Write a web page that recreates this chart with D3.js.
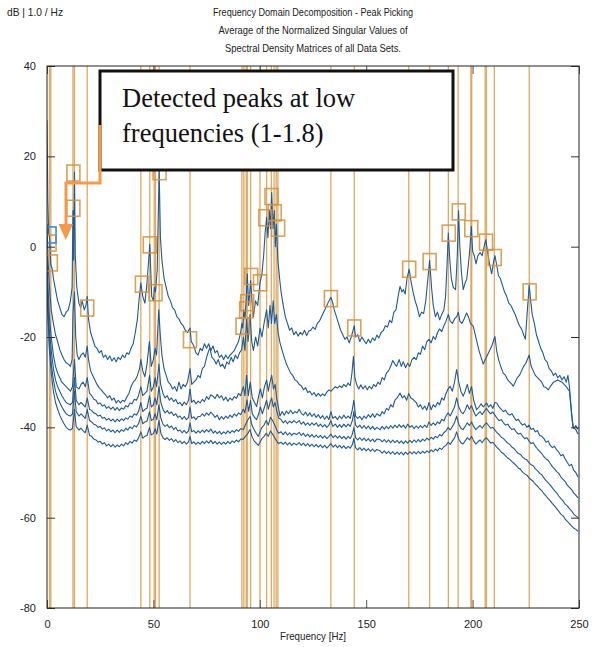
<!DOCTYPE html>
<html>
<head>
<meta charset="utf-8">
<script src="https://cdn.jsdelivr.net/npm/d3@7"></script>
<style>
  body { margin: 0; background: #fff; }
  svg text { font-family: "Liberation Sans", Arial, sans-serif; }
</style>
</head>
<body>
<div id="chart"></div>
<script>
// ---- data ----
const xTicks = [0, 50, 100, 150, 200, 250];
const yTicks = [-80, -60, -40, -20, 0, 20, 40];
const titleLines = [
  "Frequency Domain Decomposition - Peak Picking",
  "Average of the Normalized Singular Values of",
  "Spectral Density Matrices of all Data Sets."
];
const unitLabel = "dB | 1.0 / Hz";
const xLabel = "Frequency [Hz]";
const noteLines = ["Detected peaks at low", "frequencies (1-1.8)"];

// frequencies of the picked peaks (vertical lines)
const peakFreqs = [1.2, 1.8, 12.2, 12.9, 18.9, 44.1, 48.3, 50.4, 51.0, 52.7, 67.2,
  91.6, 92.5, 93.6, 94.1, 95.7, 100.1, 103.2, 105.4, 106.7, 107.7, 108.5,
  133.4, 144.4, 170.0, 179.8, 188.6, 193.2, 199.2, 199.6, 205.9, 206.5, 210.2, 226.6];

// square markers on the peaks [Hz, dB]
const boxFreqs = [1.2, 1.8, 12.4, 12.4, 18.9, 44.6, 48.3, 51.0, 52.9, 67.2, 91.9, 93.6, 94.1, 96.0,
  100.1, 102.6, 105.5, 107.0, 108.6, 133.4, 144.4, 170.2, 179.8, 188.8, 193.5, 199.4, 206.3, 210.4, 226.8];
const boxDbs = [0.8, -3.6, 16.3, 8.5, -13.6, -8.3, 0.4, -10.2, 16.6, -20.6, -17.6, -14, -12.4, -6.6,
  -8, 6.4, 11.1, 7.5, 4.1, -11.5, -18, -5, -3.3, 3, 7.7, 4, 1, -2.4, -10];
// the first (blue) marker
const blueBox = [1.2, 2.6];

// singular value curves [Hz, dB]
const sv1 = [[0,28],[0.4,10],[0.8,3],[1.2,2],[1.5,-1],[1.8,-4],[2.5,-5],[3,-7],[4,-9.5],[5,-12],[6,-13.5],[7,-15],[8,-15.5],[9,-14.5],[10,-14],[11,-12],[11.8,-9],[12.2,8],[12.5,-3],[12.9,16.5],[13.3,-2],[14,-9],[15,-12.5],[15.8,-13.5],[16.5,-12],[17.5,-14],[18.3,-13],[18.9,-11],[19.5,-16],[20.5,-19],[21.5,-20.5],[22.5,-22],[23.5,-22.5],[24.5,-23.5],[25.5,-23],[26.5,-24.5],[27.5,-24],[28.5,-25],[29.5,-24.2],[30.5,-25.3],[31.5,-24.6],[32.5,-25.5],[33.5,-24.5],[34.5,-25],[35.5,-24],[36.5,-24.6],[37.5,-23.5],[38.5,-23.8],[39.5,-22.5],[40.5,-21.5],[41.5,-19],[42.5,-16],[43.2,-12],[44.1,-8],[45,-11],[46,-12.5],[47,-8],[48.3,0.5],[49.2,-11],[50,-12],[50.5,-9],[51,-10],[51.8,-5],[52.7,17],[53.3,2],[54,-3],[55,-7],[56,-9],[57,-11],[58,-12],[59,-13.5],[60,-14],[61,-15.5],[62,-16],[63,-17],[64,-17.5],[65,-18.5],[66,-19],[67.2,-18],[67.8,-21],[69,-22],[70,-23.5],[71,-24],[72,-22.5],[73,-23],[74,-21.5],[75,-22.5],[76,-21.5],[77,-23],[78,-22],[79,-23.5],[80,-23],[81,-24.5],[82,-24],[83,-25],[84,-24],[85,-24.8],[86,-24],[87,-23.5],[88,-23],[89,-22],[90,-21],[91,-19],[91.6,-17],[92,-18],[92.5,-14],[93,-16],[93.6,-12],[94.1,-6],[94.8,-13],[95.7,-7.5],[96.5,-13],[97,-15.5],[98,-12],[99,-13],[100.1,-8],[101,-6],[101.8,-2],[102.5,3],[103.2,6.5],[103.8,2],[104.5,8],[105,4],[105.6,12],[106.2,4],[106.8,8],[107.3,0],[107.8,5],[108.5,-3],[109.3,-7],[110,-10],[111,-13],[112,-15.5],[113,-17],[114,-18.5],[115,-18],[116,-19.5],[117,-18.8],[118,-19.8],[119,-19],[120,-19.5],[121,-18.5],[122,-19.7],[123,-18.7],[124,-18.5],[125,-17.8],[126,-18.3],[127,-17],[128,-16.5],[129,-15.5],[130,-14.5],[131,-13.5],[132,-12.5],[133.4,-11.2],[134.3,-12.5],[135,-14],[136,-15.5],[137,-17],[138,-18.5],[139,-19.5],[140,-20.5],[141,-20],[142,-21.3],[143,-20],[144.4,-17.5],[145,-20],[146,-19.5],[147,-21],[148,-20],[149,-20.8],[150,-21.5],[151,-20.5],[152,-21.3],[153,-20.2],[154,-20.8],[155,-19.6],[156,-20.2],[157,-19],[158,-18.6],[159,-17.5],[160,-17.8],[161,-16.3],[162,-16.8],[163,-14.5],[164,-14],[165,-11],[165.9,-8.8],[166.8,-10],[167.5,-9.5],[168.3,-10.5],[169.2,-7],[170.2,-5],[171,-7.5],[172,-10],[173,-12],[174,-13.5],[175,-15.5],[176,-14.5],[177,-14.8],[178,-12],[179,-7],[179.8,-3],[180.7,-9],[181.5,-13],[182.5,-15.5],[183.5,-14.5],[184.5,-16.2],[185.5,-15],[186.5,-14],[187.3,-11],[188,-4],[188.6,3],[189.3,-3],[190,-7],[190.9,-9],[192,-9.5],[192.8,-2],[193.4,8],[194,0],[194.8,-6],[195.6,-9.5],[196.5,-8],[197.2,-7.3],[198,-4],[198.8,0],[199.4,4.5],[200,-1],[200.8,-2],[201.6,-3.8],[202.5,-2],[203.5,-1.3],[204.5,-2],[205.4,0],[206.2,1.5],[207,-1],[208,-4],[209,-6],[209.8,-3.5],[210.5,-2],[211.3,-4],[212.2,-6.5],[213,-7],[214,-8.5],[215,-10],[216,-11],[217,-12.5],[218,-13],[219,-14],[220,-15],[221,-16.3],[222,-17.5],[223,-18.2],[224,-19.5],[224.8,-20.5],[225.6,-15],[226.6,-8.5],[227.3,-12],[228,-15],[229,-17],[230,-19.5],[231,-21],[232,-22.5],[233,-23.5],[234,-25],[235,-25.5],[236,-27],[237,-27.5],[238,-28.5],[239,-28],[240,-29],[241,-28.5],[242,-29.5],[243,-28.8],[244,-30],[244.8,-28.5],[245.5,-31],[246.2,-35],[246.8,-38.5],[247.5,-40.2],[248.5,-39.6],[249.5,-40.5]];

const sv2 = [[0,5],[0.5,-3],[1,-8],[1.5,-11],[2,-14],[3,-17],[4,-19.5],[5,-21],[6,-22.8],[7,-24],[8,-25],[9,-25.7],[10,-26],[11,-26.5],[11.8,-25],[12.2,-15],[12.9,-10],[13.5,-20],[14.2,-24],[15,-25],[16,-24],[17,-23.5],[18,-24.5],[18.9,-22],[19.5,-25],[20.5,-27.5],[21.5,-28.5],[22.5,-29.5],[23.5,-30.5],[24.5,-31.2],[25.5,-31.7],[26.5,-32.3],[27.5,-32.8],[28.5,-33.5],[29.5,-33],[30.5,-34],[31.5,-33.5],[32.5,-34.6],[33.5,-34],[34.5,-34.6],[35.5,-34],[36.5,-34.3],[37.5,-33.3],[38.5,-32.5],[39.5,-31],[40.5,-30],[41.5,-29.5],[42.5,-28.5],[43.5,-27],[44.1,-25],[45,-27.5],[46,-28.8],[47,-26],[48.1,-21],[49,-26.5],[50,-25],[50.8,-22.5],[51.5,-24],[52.5,-14],[53.3,-20],[54,-24],[55,-27],[56,-28.5],[57,-30],[58,-30.5],[59,-31.5],[60,-31],[61,-32],[62,-30],[63,-31.5],[64,-30.5],[65,-31],[66,-30],[67.2,-27],[68,-30.5],[69,-30],[70,-29.5],[71,-28.5],[72,-29],[73,-27],[74,-26.5],[75,-24.5],[76,-23],[76.6,-22.5],[77.5,-24.5],[78.5,-25],[79.5,-26],[80.5,-25],[81.5,-26.5],[82.5,-26],[83.5,-27],[84.5,-25.5],[85.5,-26],[86.5,-24.5],[87.5,-25.5],[88.5,-24],[89.5,-24.8],[90.5,-23.5],[91.5,-22.8],[92.3,-20],[93,-23],[93.8,-16],[94.5,-21],[95.4,-15],[96.2,-21],[97,-23],[98,-20],[99,-22],[100.1,-18],[101,-20],[102,-17],[103.2,-14],[104,-18],[104.8,-13],[105.5,-17],[106.3,-12],[107,-17],[107.8,-15],[108.6,-19],[109.5,-21.3],[110.5,-23],[111.5,-24.5],[112.5,-26],[113.5,-27],[114.5,-28],[115.5,-28.5],[116.5,-29.5],[117.5,-29.8],[118.5,-30.5],[119.5,-30.8],[120.5,-31.7],[121.5,-31.2],[122.5,-32.3],[123.5,-32],[124.5,-32.8],[125.5,-32.3],[126.5,-33.1],[127.5,-32.5],[128.5,-33.1],[129.5,-32.6],[130.5,-33],[131.5,-32.2],[132.5,-31.7],[133.5,-32],[134.5,-31.5],[135.5,-31],[136.5,-31.3],[137.5,-30.8],[138.5,-31.2],[139.5,-30.5],[140.5,-31],[141.5,-30.2],[142.5,-30.8],[143.3,-28],[144,-24.3],[144.7,-29],[145.5,-30.5],[146.5,-31.5],[147.5,-30.6],[148.5,-31.5],[149.5,-30.8],[150.5,-31.7],[151.5,-30.9],[152.5,-31.5],[153.5,-30.5],[154.5,-31],[155.5,-30],[156.5,-30.5],[157.5,-29],[158.5,-29.5],[159.5,-28],[160.5,-27.5],[161.5,-26.5],[162.5,-25.2],[163.5,-26],[164.3,-26.5],[165.5,-25],[166.5,-26.5],[167.5,-25.5],[168.5,-26.8],[169.5,-25.8],[170.5,-26.5],[171.5,-25],[172.5,-24.5],[173.5,-25],[174.5,-23.5],[175.5,-23.8],[176.5,-22],[177.5,-22.8],[178.5,-21],[179.5,-20.5],[180.5,-21.3],[181.5,-19.9],[182.5,-20.5],[183.5,-19],[184.5,-18.2],[185.5,-18.8],[186.5,-17.5],[187.5,-16.5],[188.6,-15],[189.5,-16.5],[190.5,-17],[191.5,-16],[192.5,-15.5],[193.3,-14.5],[194,-16.5],[195,-17],[196,-16],[197.2,-14.7],[198,-15.5],[199,-17],[200.3,-17.6],[201,-19],[202,-21],[203,-23],[204,-24.5],[205,-26],[206,-25],[207,-24],[208,-23],[209,-22],[209.7,-21],[210.5,-19.9],[211.3,-23],[212.2,-25],[213.2,-26.5],[214.4,-28],[215.5,-28.5],[216.5,-29.5],[217.5,-30],[218.5,-30.5],[219.1,-30.9],[220,-30],[221,-29],[222,-28.5],[223,-27.5],[224,-26.5],[225,-25.8],[226.6,-24],[227.5,-26.5],[228.5,-27.5],[229.5,-28.5],[230.5,-29],[231.5,-29.5],[232.5,-30],[233.5,-31],[234.5,-31.2],[235.5,-31.7],[236.5,-31],[238,-30],[240,-29.5],[242,-30],[244,-31],[245.5,-32],[246.3,-36],[247.2,-40],[248.5,-40.5],[249.5,-41.5]];

const sv3 = [[0,-2],[0.5,-9],[1,-15],[2,-20],[3,-24],[4,-26.5],[5,-28],[6,-29],[7,-30],[8,-30.5],[9,-31],[10,-31.5],[11,-32],[12,-31],[12.9,-25],[13.7,-31],[15,-31.5],[16,-30.5],[17,-30],[18,-31],[18.9,-29],[20,-32.5],[21,-33],[22,-33.8],[23,-34],[24,-34.8],[25,-34.6],[26,-35.3],[27,-35],[28,-35.8],[29,-35.4],[30,-36],[31,-35.5],[32,-36.2],[33,-35.6],[34,-36.3],[35,-35.7],[36,-36],[37,-35.2],[38,-35.5],[39,-34.6],[40,-34.8],[41,-33.8],[42,-34],[43,-33],[44.1,-31],[45,-33],[46,-32.5],[47,-32],[48.2,-28.5],[49,-32],[50,-31],[50.8,-29],[51.5,-31],[52.6,-26],[53.4,-30.5],[54.5,-32.5],[55.5,-33.5],[56.5,-33],[57.5,-34],[58.5,-33.5],[59.5,-34.3],[60.5,-33.8],[61.5,-34.8],[62.5,-34.5],[63.5,-35.2],[64.5,-34.4],[65.5,-35],[66.5,-34],[67.2,-31.5],[68,-34.5],[69,-34],[70,-34.8],[71,-34.2],[72,-34.6],[73,-33.8],[74,-34.3],[75,-33.2],[76,-33.8],[77,-32.8],[78,-33.1],[79,-33.6],[80,-32.7],[81,-33.5],[82,-33],[83,-34],[84,-33.3],[85,-34.2],[86,-33.5],[87,-34],[88,-33.2],[89,-33.6],[90,-32.5],[91,-33],[92.3,-31],[93,-33],[93.8,-28.5],[94.6,-33],[95.5,-30],[96.5,-33.5],[97.5,-34.5],[98.5,-35.4],[99.5,-33],[100.3,-31.5],[101.2,-33.5],[102.2,-31],[103.2,-29.5],[104,-32],[104.8,-30],[105.6,-28.5],[106.4,-31.5],[107.2,-30.5],[107.9,-33.5],[108.7,-35.5],[109.5,-37.5],[110.5,-36.5],[111.5,-37.3],[112.5,-36.4],[113.5,-37],[114.5,-36.2],[115.5,-37],[116.5,-36.5],[117.5,-36.8],[118.5,-36],[119.5,-36.9],[120.5,-37.3],[121.5,-36.6],[122.5,-37.5],[123.5,-36.8],[124.5,-37.6],[125.5,-37],[126.5,-37.8],[127.5,-37.2],[128.5,-38],[129.5,-37.4],[130.5,-38.2],[131.5,-37.5],[132.5,-38.3],[133.4,-36.5],[134.3,-38],[135.5,-37.6],[136.5,-38.3],[137.5,-37.5],[138.5,-38.1],[139.5,-37.3],[140.5,-38],[141.5,-37.5],[142.5,-38],[143.5,-36],[144.2,-34],[145,-37.5],[146,-38],[147,-37.6],[148,-38.3],[149,-37.5],[150,-38],[151,-37.2],[152,-37.8],[153,-37],[154,-37.8],[155,-37],[156.5,-37.5],[157.5,-36.5],[158.5,-37],[159.5,-35.8],[160.5,-36.2],[161.5,-35],[162.5,-35.5],[163.5,-34],[164.5,-33.5],[165.9,-32.4],[167,-33.5],[168,-33],[169,-34],[170,-32.5],[171,-33.5],[172.2,-33.9],[173.5,-34.5],[174.5,-35.5],[175.5,-35],[176.5,-36],[177.5,-35.3],[178.5,-36.2],[179.5,-34.5],[180.5,-36.1],[181.5,-35],[182.5,-35.5],[183.5,-34.5],[184.5,-35],[185.5,-33.5],[186.5,-34],[187.5,-32.5],[188.5,-31.5],[189.4,-30.9],[190.5,-32],[191.5,-30],[192.5,-27.2],[193.5,-30],[194.5,-32],[195.6,-33.1],[196.5,-32],[197.5,-30.5],[198.5,-32.5],[199.5,-31],[200.5,-34],[201.9,-36.1],[203,-35.5],[204,-34.8],[205,-35.5],[206.6,-34.6],[207.5,-35.5],[208.5,-35],[209.5,-35.8],[210.5,-34.5],[211.3,-34.6],[212.5,-35.5],[213.5,-36],[214.5,-36.5],[215.5,-36.2],[216.5,-37],[217.5,-37.3],[218.5,-37],[219.5,-37.8],[220.5,-38.5],[221.5,-38.2],[222.5,-39],[223.5,-39.5],[224.5,-39.2],[225.5,-40],[226.5,-39.5],[227.5,-40.5],[228.5,-40.2],[229.5,-41],[230.5,-40.7],[231.5,-41.8],[232.5,-42],[233.5,-42.5],[234.5,-43.3],[235.5,-43],[236.5,-44],[237.5,-44.5],[238.5,-44.2],[239.5,-45],[240.5,-45.5],[241.5,-46.3],[242.5,-46],[243.5,-47],[244.5,-47.8],[245.5,-48.5],[246.5,-48.2],[247.5,-49.5],[248.5,-50],[249.5,-51]];

const sv4 = [[0,-5],[0.5,-12],[1,-18],[2,-23],[3,-27],[4,-29.5],[5,-31],[6,-32],[7,-33],[8,-33.8],[9,-34.5],[10,-34.8],[11,-35],[12,-34.5],[12.9,-29],[13.7,-34],[15,-35],[16,-34.5],[17,-35],[18,-35.5],[18.9,-33.5],[20,-36],[21,-36.3],[22,-36.8],[23,-37],[24,-37.5],[25,-37.3],[26,-38],[27,-37.8],[28,-38.4],[29,-38],[30,-38.6],[31,-38.2],[32,-38.8],[33,-38.2],[34,-38.7],[35,-38.1],[36,-38.5],[37,-37.9],[38,-38.2],[39,-37.5],[40,-37.8],[41,-37],[42,-37.3],[43,-36.5],[44.1,-34.5],[45,-36.5],[46,-36],[47,-35.8],[48.2,-33],[49,-35.5],[50,-35],[50.8,-33.5],[51.6,-35],[52.6,-31],[53.5,-34.5],[54.5,-36],[55.5,-36.8],[56.5,-36.3],[57.5,-37],[58.5,-36.6],[59.5,-37.4],[60.5,-37],[61.5,-37.8],[62.5,-37.5],[63.5,-38.2],[64.5,-37.6],[65.5,-38.3],[66.5,-37.8],[67.2,-35.5],[68,-38],[69,-37.7],[70,-38.3],[71,-37.6],[72,-37.6],[73,-37],[74,-37.5],[75,-36.8],[76,-37.3],[77,-36.6],[78,-37.2],[79,-37.8],[80,-37.3],[81,-38.3],[82,-37.6],[83,-38.2],[84,-37.5],[85,-38],[86,-37.3],[87,-37.8],[88,-37],[89,-37.5],[90,-36.8],[91,-37.2],[92.3,-36],[93,-36.8],[94,-33.9],[94.8,-36.5],[95.6,-34],[96.5,-37],[97.5,-37.8],[98.5,-38.3],[99.5,-37],[100.3,-35.5],[101.2,-37],[102.2,-35.5],[103.2,-34],[104,-36],[104.8,-34.5],[105.6,-33.5],[106.3,-35.5],[107.2,-34.5],[108,-36.5],[109,-38],[110,-38.3],[111,-39],[112,-38.5],[113,-39.2],[114,-38.6],[115,-39],[116,-38.5],[117.3,-39],[118.5,-38.5],[119.5,-39.3],[120.5,-38.8],[121.5,-39.5],[122.5,-39],[123.5,-39.6],[124.5,-39],[125.5,-39.5],[126.5,-39],[127.5,-39.8],[128.5,-39.3],[129.5,-39.9],[130.5,-39.4],[131.5,-40],[132.5,-39.5],[133.4,-38.5],[134.3,-39.8],[135.5,-39.3],[136.5,-40],[137.5,-39.4],[138.5,-40],[139.5,-39.3],[140.5,-39.9],[141.5,-39.3],[142.5,-39.8],[143.5,-38.5],[144.2,-36.5],[145,-39.5],[146,-40],[147,-39.5],[148,-40.2],[149,-39.6],[150,-40.3],[151,-39.7],[152,-40.4],[153,-39.8],[154,-40.5],[155,-40],[156.5,-40.5],[157.5,-39.8],[158.5,-40.4],[159.5,-39.8],[160.5,-40.3],[161.5,-39.6],[162.5,-40.2],[163.5,-39.5],[164.5,-40.1],[165.5,-39.4],[166.5,-40],[167.5,-39.5],[168.5,-40.2],[169.5,-39.3],[170.5,-40],[171.5,-39.6],[172.5,-40.3],[173.5,-39.7],[174.5,-40.2],[175.5,-39.6],[176.5,-40.1],[177.5,-39.5],[178.5,-40],[179.5,-38.8],[180.5,-39.6],[181.5,-39],[182.5,-39.5],[183.5,-38.8],[184.5,-39.2],[185.5,-38.2],[186.5,-38.6],[187.5,-37.5],[188.5,-36.8],[189.5,-37.5],[190.5,-36.5],[191.5,-35.5],[192.5,-33.5],[193.5,-35.5],[194.5,-36.5],[195.5,-37],[196.5,-36.2],[197.5,-35],[198.5,-36],[199.5,-35.2],[200.5,-36.5],[201.5,-37.5],[202.5,-37],[203.5,-36.5],[204.5,-37.2],[205.5,-36.4],[206.5,-35.8],[207.5,-36.5],[208.5,-37],[209.5,-36.6],[210.5,-37.3],[211.5,-38],[212.5,-38.5],[213.5,-38.3],[214.5,-39],[215.5,-39.5],[216.5,-39.3],[217.5,-40],[218.5,-40.5],[219.5,-40.3],[220.5,-41],[221.5,-41.5],[222.5,-41.3],[223.5,-42],[224.5,-42.5],[225.5,-42.3],[226.5,-43],[227.5,-43.6],[228.5,-43.4],[229.5,-44.2],[230.5,-44.8],[231.5,-45.3],[232.5,-45.8],[233.5,-46.5],[234.5,-47],[235.5,-47.3],[236.5,-48],[237.5,-48.7],[238.5,-49.2],[239.5,-49.8],[240.5,-50.2],[241.5,-51],[242.5,-51.5],[243.5,-52],[244.5,-52.8],[245.5,-53.3],[246.5,-53.8],[247.5,-54.5],[248.5,-55],[249.5,-55.6]];

const sv5 = [[0,-7],[0.5,-14],[1,-20],[2,-26],[3,-29.5],[4,-32],[5,-33.5],[6,-34.5],[7,-35.5],[8,-36.3],[9,-37],[10,-37.3],[11,-37.5],[12,-37],[12.9,-32],[13.7,-36.5],[15,-37.5],[16,-37],[17,-37.5],[18,-38],[18.9,-36],[20,-38.5],[21,-38.8],[22,-39.3],[23,-39.5],[24,-40],[25,-39.8],[26,-40.4],[27,-40.1],[28,-40.8],[29,-40.4],[30,-41],[31,-40.6],[32,-41.2],[33,-40.6],[34,-41.1],[35,-40.5],[36,-40.9],[37,-40.2],[38,-40.6],[39,-39.9],[40,-40.3],[41,-39.6],[42,-39.9],[43,-39.2],[44.1,-37.5],[45,-39.2],[46,-38.8],[47,-38.6],[48.2,-36.5],[49,-38.5],[50,-38.2],[50.8,-37],[51.6,-38.3],[52.6,-35],[53.5,-38],[54.5,-39.3],[55.5,-39.8],[56.5,-39.4],[57.5,-40.1],[58.5,-39.7],[59.5,-40.5],[60.5,-40],[61.5,-40.8],[62.5,-40.6],[63.5,-41.2],[64.5,-40.7],[65.5,-41.3],[66.5,-40.8],[67.2,-39],[68,-41],[69,-40.7],[70,-41.3],[71,-40.8],[72,-41.2],[73,-40.6],[74,-41.1],[75,-40.5],[76,-41],[77,-40.4],[78.2,-41.3],[79,-40.8],[80,-41.4],[81,-40.9],[82,-41.5],[83,-41],[84,-41.4],[85,-40.8],[86,-41.3],[87,-40.7],[88,-41.1],[89,-40.5],[90,-40.9],[91,-40.3],[92.3,-40.5],[93.2,-39.5],[94.2,-38.5],[95.4,-37.6],[96.3,-39.5],[97.3,-40.5],[98.3,-41.3],[99.3,-42],[100.1,-41],[101,-40],[102,-39.5],[103,-38.5],[104,-39.5],[105,-37.8],[106,-38.5],[107,-39.5],[107.9,-40.5],[108.8,-41.3],[110,-41],[111,-41.6],[112,-41],[113,-41.7],[114,-41.2],[115,-41.8],[116,-41.3],[117.3,-41.6],[118.5,-41.1],[119.5,-41.8],[120.5,-41.3],[121.5,-42],[122.5,-41.5],[123.5,-42.1],[124.5,-41.6],[125.5,-42.2],[126.5,-41.7],[127.5,-42.3],[128.5,-41.8],[129.5,-42.4],[130.5,-41.9],[131.5,-42.5],[132.5,-42],[133.4,-41.5],[134.5,-42.3],[135.5,-41.8],[136.5,-42.4],[137.5,-41.9],[138.5,-42.5],[139.5,-42],[140.5,-42.6],[141.5,-42],[142.5,-42.5],[143.5,-41.5],[144.2,-40],[145,-42.3],[146,-42.8],[147,-42.3],[148,-42.9],[149,-42.4],[150,-43],[151,-42.5],[152,-43.1],[153,-42.6],[154,-43.2],[155,-42.6],[156.5,-42.7],[157.5,-43.2],[158.5,-42.7],[159.5,-43.3],[160.5,-42.8],[161.5,-43.4],[162.5,-42.8],[163.5,-43.4],[164.5,-42.9],[165.5,-43.5],[166.5,-43],[167.5,-43.6],[168.5,-43],[169.5,-43.5],[170.5,-42.9],[171.5,-43.4],[172.5,-42.8],[173.5,-43.3],[174.5,-42.7],[175.5,-43.2],[176.5,-42.6],[177.5,-43],[178.5,-42.4],[179.5,-42.8],[180.5,-42.2],[181.5,-42.6],[182.5,-42],[183.5,-42.3],[184.5,-41.6],[185.5,-41.9],[186.5,-41.2],[187.5,-40.8],[188.5,-40],[189.5,-40.6],[190.5,-39.8],[191.5,-39],[192.5,-37.5],[193.5,-39.3],[194.5,-40.2],[195.5,-40.5],[196.5,-39.8],[197.5,-39],[198.5,-39.6],[199.5,-38.8],[200.5,-39.8],[201.5,-40.5],[202.5,-40],[203.5,-39.6],[204.5,-40.2],[205.5,-39.5],[206.5,-39],[207.5,-39.6],[208.5,-40.2],[209.5,-40],[210.5,-40.6],[211.5,-41.2],[212.5,-41.6],[213.5,-42.2],[214.5,-42.5],[215.5,-43],[216.5,-43.5],[217.5,-43.8],[218.5,-44.4],[219.5,-44.7],[220.5,-45.3],[221.5,-45.8],[222.5,-46],[223.5,-46.6],[224.5,-47],[225.5,-47.2],[226.5,-47.8],[227.5,-48.3],[228.5,-48.5],[229.5,-49.2],[230.5,-49.6],[231.5,-50.2],[232.5,-50.5],[233.5,-51.2],[234.5,-51.8],[235.5,-52.3],[236.5,-52.8],[237.5,-53.4],[238.5,-54],[239.5,-54.5],[240.5,-55.2],[241.5,-55.8],[242.5,-56.3],[243.5,-57],[244.5,-57.4],[245.5,-58],[246.5,-58.5],[247.5,-59.2],[248.5,-59.6],[249.5,-60]];

const sv6 = [[0,-9],[0.5,-16],[1,-22],[2,-28],[3,-32],[4,-34.5],[5,-36],[6,-37.3],[7,-38.3],[8,-39.2],[9,-40],[10,-40.4],[11,-40.6],[12,-40.2],[12.9,-36],[13.7,-39.8],[15,-40.6],[16,-40.2],[17,-40.8],[18,-41.2],[18.9,-39.5],[20,-41.8],[21,-42],[22,-42.6],[23,-42.8],[24,-43.3],[25,-43.1],[26,-43.7],[27,-43.4],[28,-44.1],[29,-43.7],[30,-44.3],[31,-43.8],[32,-44.4],[33,-43.9],[34,-44.3],[35,-43.7],[36,-44.1],[37,-43.4],[38,-43.8],[39,-43.1],[40,-43.5],[41,-42.8],[42,-43.1],[43,-42.4],[44.1,-41],[45,-42.4],[46,-42],[47,-41.8],[48.2,-40],[49,-41.7],[50,-41.4],[50.8,-40.3],[51.6,-41.5],[52.6,-38.5],[53.5,-41.3],[54.5,-42.3],[55.5,-42.7],[56.5,-42.3],[57.5,-42.9],[58.5,-42.5],[59.5,-43.2],[60.5,-42.7],[61.5,-43.4],[62.5,-43],[63.5,-43.6],[64.5,-43.1],[65.5,-43.7],[66.5,-43.2],[67.2,-42],[68,-43.6],[69,-43.2],[70,-43.8],[71,-43.3],[72,-43.7],[73,-43.1],[74,-43.6],[75,-43],[76,-43.5],[77,-42.9],[78,-43.6],[79,-43.1],[80,-43.7],[81,-43.2],[82,-43.8],[83,-43.3],[84,-43.7],[85,-43.1],[86,-43.6],[87,-43],[88,-43.4],[89,-42.8],[90,-43.2],[91,-42.6],[92.3,-42.6],[93.2,-42],[94.2,-41.5],[95.4,-40.5],[96.3,-42],[97.3,-43],[98.3,-43.5],[99.3,-44],[100.1,-43.3],[101,-42.5],[102,-42],[103,-41.3],[104,-42],[105,-40.8],[106,-41.5],[107,-42.3],[107.9,-43],[108.8,-43.6],[110,-43.3],[111,-43.8],[112,-43.3],[113,-43.9],[114,-43.4],[115,-44],[116,-43.5],[117.3,-43.9],[118.5,-43.4],[119.5,-44],[120.5,-43.5],[121.5,-44.1],[122.5,-43.6],[123.5,-44.2],[124.5,-43.7],[125.5,-44.3],[126.5,-43.8],[127.5,-44.4],[128.5,-43.9],[129.5,-44.5],[130.5,-44],[131.5,-44.6],[132.5,-44.1],[133.4,-43.6],[134.5,-44.4],[135.5,-43.9],[136.5,-44.5],[137.5,-44],[138.5,-44.6],[139.5,-44.1],[140.5,-44.7],[141.5,-44.2],[142.5,-44.6],[143.5,-43.8],[144.2,-42.5],[145,-44.5],[146,-45],[147,-44.5],[148,-45.1],[149,-44.6],[150,-45.2],[151,-44.7],[152,-45.3],[153,-44.8],[154,-45.4],[155,-44.9],[156.5,-45.2],[157.5,-45.7],[158.5,-45.2],[159.5,-45.8],[160.5,-45.3],[161.5,-45.9],[162.5,-45.4],[163.5,-46],[164.5,-45.5],[165.5,-46],[166.5,-45.5],[167.5,-46.1],[168.5,-45.5],[169.5,-46],[170.5,-45.4],[171.5,-45.9],[172.5,-45.4],[173.5,-45.9],[174.5,-45.3],[175.5,-45.8],[176.5,-45.3],[177.5,-45.7],[178.5,-45.2],[179.5,-45.6],[180.5,-45],[181.5,-45.4],[182.5,-44.8],[183.5,-45.2],[184.5,-44.6],[185.5,-44.9],[186.5,-44.3],[187.5,-44],[188.5,-43.3],[189.5,-43.8],[190.5,-43],[191.5,-42.4],[192.5,-41],[193.5,-42.6],[194.5,-43.4],[195.5,-43.7],[196.5,-43],[197.5,-42.3],[198.5,-42.8],[199.5,-42],[200.5,-43],[201.5,-43.7],[202.5,-43.2],[203.5,-42.8],[204.5,-43.4],[205.5,-42.7],[206.5,-42.3],[207.5,-42.9],[208.5,-43.5],[209.5,-43.3],[210.5,-43.9],[211.5,-44.5],[212.5,-44.9],[213.5,-45.5],[214.5,-45.8],[215.5,-46.3],[216.5,-46.8],[217.5,-47.1],[218.5,-47.6],[219.5,-48],[220.5,-48.5],[221.5,-49],[222.5,-49.3],[223.5,-49.9],[224.5,-50.3],[225.5,-50.6],[226.5,-51.2],[227.5,-51.6],[228.5,-52],[229.5,-52.6],[230.5,-53],[231.5,-53.6],[232.5,-54],[233.5,-54.7],[234.5,-55.2],[235.5,-55.8],[236.5,-56.3],[237.5,-56.9],[238.5,-57.4],[239.5,-58],[240.5,-58.6],[241.5,-59.2],[242.5,-59.6],[243.5,-60.3],[244.5,-60.8],[245.5,-61.3],[246.5,-61.8],[247.5,-62.3],[248.5,-62.6],[249.5,-63]];

const curves = [sv6, sv5, sv4, sv3, sv2, sv1];

// ---- layout ----
const width = 592, height = 647;
const margin = { top: 66, right: 13, bottom: 39, left: 47 };
const innerW = width - margin.left - margin.right;
const innerH = height - margin.top - margin.bottom;

const svg = d3.select("#chart").append("svg")
  .attr("width", width)
  .attr("height", height);

const x = d3.scaleLinear().domain([0, 250]).range([margin.left, margin.left + innerW]);
const y = d3.scaleLinear().domain([-80, 40]).range([margin.top + innerH, margin.top]);

// plain hyphen for negative tick labels, like the original
const plainFormat = d => String(d);

// titles
svg.append("text")
  .attr("x", 7).attr("y", 16)
  .attr("textLength", 56).attr("lengthAdjust", "spacingAndGlyphs")
  .style("font-size", "11px").style("fill", "#222")
  .text(unitLabel);

const titleWidths = [200, 189, 176];
titleLines.forEach((t, i) => {
  svg.append("text")
    .attr("x", 313 - titleWidths[i] / 2).attr("y", 16 + i * 18)
    .attr("textLength", titleWidths[i]).attr("lengthAdjust", "spacingAndGlyphs")
    .style("font-size", "11px").style("fill", "#222")
    .text(t);
});

// clip for plot area
svg.append("clipPath").attr("id", "plot-clip")
  .append("rect")
  .attr("x", margin.left).attr("y", margin.top)
  .attr("width", innerW).attr("height", innerH);

const plot = svg.append("g").attr("clip-path", "url(#plot-clip)");

// peak lines
plot.selectAll("line.peak")
  .data(peakFreqs)
  .join("line")
  .attr("class", "peak")
  .attr("x1", d => x(d)).attr("x2", d => x(d))
  .attr("y1", margin.top).attr("y2", margin.top + innerH)
  .attr("stroke", "#d99a44")
  .attr("stroke-opacity", 0.85)
  .attr("stroke-width", 1.3);

// curves
const line = d3.line()
  .x(d => x(d[0]))
  .y(d => y(d[1]));

plot.selectAll("path.sv")
  .data(curves)
  .join("path")
  .attr("class", "sv")
  .attr("fill", "none")
  .attr("stroke", "#1d5a97")
  .attr("stroke-width", 1.1)
  .attr("stroke-linejoin", "round")
  .attr("d", line);

// peak markers
const boxW = 13, boxH = 16;
plot.selectAll("rect.pk")
  .data(boxFreqs.map((f, i) => [f, boxDbs[i]]))
  .join("rect")
  .attr("class", "pk")
  .attr("x", d => x(d[0]) - boxW / 2)
  .attr("y", d => y(d[1]) - boxH / 2)
  .attr("width", boxW).attr("height", boxH)
  .attr("fill", "none")
  .attr("stroke", "#d4903a")
  .attr("stroke-opacity", 0.85)
  .attr("stroke-width", 1.6);

plot.append("rect")
  .attr("x", x(blueBox[0]) - boxW / 2)
  .attr("y", y(blueBox[1]) - boxH / 2)
  .attr("width", boxW).attr("height", boxH)
  .attr("fill", "none")
  .attr("stroke", "#3d8fd2")
  .attr("stroke-width", 1.6);

// axes (ticks point inwards)
const fontAxis = g => g.selectAll("text")
  .style("font-family", "'Liberation Sans', Arial, sans-serif")
  .style("font-size", "11px").style("fill", "#222");

svg.append("g")
  .attr("transform", `translate(${margin.left},0)`)
  .call(d3.axisLeft(y).tickValues(yTicks).tickFormat(plainFormat)
    .tickSizeInner(-8).tickSizeOuter(0).tickPadding(11))
  .call(g => g.select(".domain").remove())
  .call(g => g.selectAll("line").attr("stroke", "#333"))
  .call(fontAxis);

svg.append("g")
  .attr("transform", `translate(${margin.left + innerW},0)`)
  .call(d3.axisRight(y).tickValues(yTicks).tickSizeInner(-8).tickSizeOuter(0).tickFormat(""))
  .call(g => g.select(".domain").remove())
  .call(g => g.selectAll("line").attr("stroke", "#333"));

svg.append("g")
  .attr("transform", `translate(0,${margin.top + innerH})`)
  .call(d3.axisBottom(x).tickValues(xTicks).tickFormat(plainFormat)
    .tickSizeInner(-8).tickSizeOuter(0).tickPadding(12))
  .call(g => g.select(".domain").remove())
  .call(g => g.selectAll("line").attr("stroke", "#555"))
  .call(fontAxis);

svg.append("g")
  .attr("transform", `translate(0,${margin.top})`)
  .call(d3.axisTop(x).tickValues(xTicks).tickSizeInner(-8).tickSizeOuter(0).tickFormat(""))
  .call(g => g.select(".domain").remove())
  .call(g => g.selectAll("line").attr("stroke", "#555"));

// frame
svg.append("rect")
  .attr("x", margin.left).attr("y", margin.top)
  .attr("width", innerW).attr("height", innerH)
  .attr("fill", "none")
  .attr("stroke", "#222")
  .attr("stroke-width", 1);

svg.append("text")
  .attr("x", margin.left + innerW / 2).attr("y", 640)
  .attr("text-anchor", "middle")
  .attr("textLength", 66).attr("lengthAdjust", "spacingAndGlyphs")
  .style("font-size", "11px").style("fill", "#222")
  .text(xLabel);

// annotation box with arrow
svg.append("rect")
  .attr("x", 100).attr("y", 71)
  .attr("width", 353).attr("height", 99)
  .attr("fill", "#fff")
  .attr("stroke", "#111")
  .attr("stroke-width", 3);

noteLines.forEach((t, i) => {
  svg.append("text")
    .attr("x", 122).attr("y", 107 + i * 35)
    .style("font-family", "'Liberation Serif', 'Times New Roman', serif")
    .style("font-size", "26.5px").style("fill", "#111")
    .text(t);
});

svg.append("path")
  .attr("d", "M100,125 V183 H66 V226")
  .attr("fill", "none")
  .attr("stroke", "#f5994a")
  .attr("stroke-width", 3);

svg.append("path")
  .attr("d", "M58.5,224 L73,224 L65.8,240 Z")
  .attr("fill", "#f5994a");
</script>
</body>
</html>
